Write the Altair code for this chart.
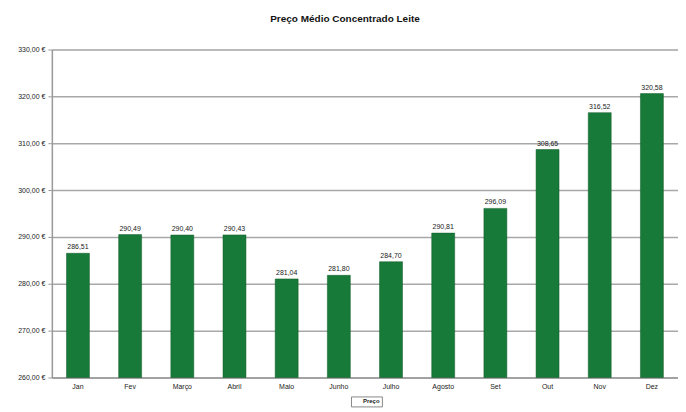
import altair as alt
import pandas as pd

months = ["Jan", "Fev", "Março", "Abril", "Maio", "Junho", "Julho", "Agosto", "Set", "Out", "Nov", "Dez"]
prices = [286.51, 290.49, 290.40, 290.43, 281.04, 281.80, 284.70, 290.81, 296.09, 308.65, 316.52, 320.58]
series_name = ["Preço"]

df = pd.DataFrame({"mes": months, "preco": prices, "serie": series_name * len(months)})

font = "Liberation Sans"
green = "#187a38"

x = alt.X("mes:N", sort=months, title=None,
          scale=alt.Scale(paddingInner=0.56, paddingOuter=0.28),
          axis=alt.Axis(labelAngle=0, ticks=False, domainColor="#9a9a9a", domainWidth=1.5,
                        labelFont=font, labelFontSize=7, labelColor="#222", labelPadding=5))
y = alt.Y("preco:Q", title=None,
          scale=alt.Scale(domain=[260, 330], nice=False, zero=False),
          axis=alt.Axis(values=[260, 270, 280, 290, 300, 310, 320, 330],
                        labelExpr="replace(format(datum.value, '.2f'), '.', ',') + ' €'",
                        gridColor="#a8a8a8", gridWidth=1.5, domainColor="#9a9a9a", domainWidth=1.5,
                        tickColor="#9a9a9a", tickSize=4, labelFont=font, labelFontSize=7,
                        labelColor="#222", labelPadding=3))

bars = alt.Chart(df).mark_bar(stroke="#0f5a26", strokeWidth=0.5).encode(
    x=x, y=y, y2=alt.datum(260),
    color=alt.Color("serie:N", scale=alt.Scale(range=[green]),
                    legend=alt.Legend(title=None, orient="none", legendX=300, legendY=348,
                                      labelFont=font, labelFontSize=6, labelColor="#222",
                                      strokeColor="#888", padding=2, symbolSize=0,
                                      labelFontWeight="bold", direction="horizontal"))
)
labels = alt.Chart(df).mark_text(dy=-6, font=font, fontSize=7, fill="#222").encode(
    x=alt.X("mes:N", sort=months),
    y="preco:Q",
    text=alt.Text("label:N")
).transform_calculate(label="replace(format(datum.preco, '.2f'), '.', ',')")

chart = (bars + labels).properties(
    width=628, height=329,
    title=alt.TitleParams("Preço Médio Concentrado Leite", font=font, fontSize=10, fontWeight="bold",
                          anchor="middle", dx=-20, offset=22, color="#111"),
    autosize=alt.AutoSizeParams(type="none"),
    padding={"left": 44, "top": 41, "right": 0, "bottom": 30},
).configure_view(stroke=None).configure(background="white")

chart.save("out.html", embed_options={"renderer": "svg", "actions": False})
